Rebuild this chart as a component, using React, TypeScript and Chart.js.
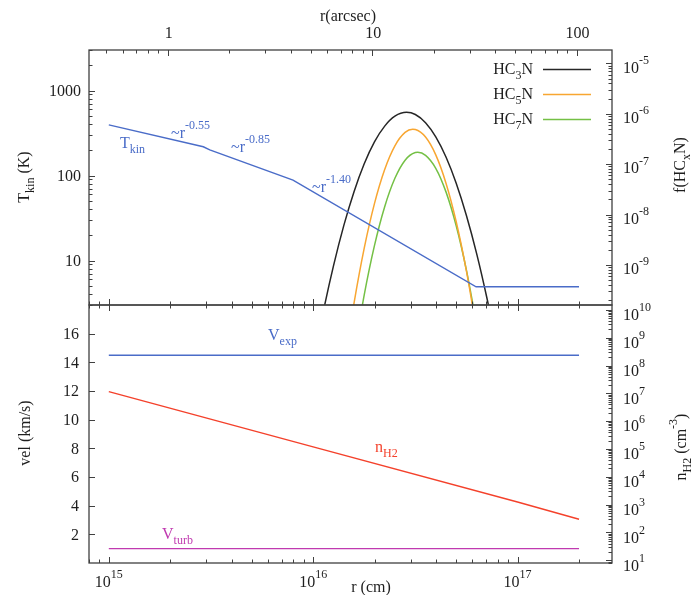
import React, { useEffect, useRef } from "react";
import { Chart, registerables } from "chart.js";

Chart.register(...registerables);

const W = 692;
const H = 595;

// ---------- axis ranges ----------
const CM_PER_ARCSEC = 1.945e15;
const R_MIN = 8.0e14;
const R_MAX = 2.9e17;
const T_MIN = 3;
const T_MAX = 3000;
const F_MIN = 1.6e-10;
const F_MAX = 1.85e-5;
const V_MIN = 0;
const V_MAX = 18;
const N_MIN = 8;
const N_MAX = 1.5e10;

// ---------- tick labels ----------
const cmTickValues = [1e15, 1e16, 1e17];
const cmTickExps = ["15", "16", "17"];
const arcsecTickValues = [1, 10, 100];
const arcsecTickLabels = ["1", "10", "100"];
const tkinTickValues = [10, 100, 1000];
const tkinTickLabels = ["10", "100", "1000"];
const fracTickValues = [1e-9, 1e-8, 1e-7, 1e-6, 1e-5];
const fracTickExps = ["-9", "-8", "-7", "-6", "-5"];
const velTickValues = [2, 4, 6, 8, 10, 12, 14, 16];
const velTickLabels = ["2", "4", "6", "8", "10", "12", "14", "16"];
const densTickValues = [1e1, 1e2, 1e3, 1e4, 1e5, 1e6, 1e7, 1e8, 1e9, 1e10];
const densTickExps = ["1", "2", "3", "4", "5", "6", "7", "8", "9", "10"];

// ---------- top panel data ----------
const tkinR = [1.0e15, 2.9e15, 3.12e15, 7.97e15, 6.27e16, 2.0e17];
const tkinT = [394, 218, 200, 88.6, 4.92, 4.92];

const hc3nR = [1.0e16, 1.122e16, 1.259e16, 1.413e16, 1.585e16, 1.778e16, 1.995e16, 2.239e16, 2.512e16, 2.864e16, 3.162e16, 3.548e16, 3.981e16, 4.467e16, 5.012e16, 5.623e16, 6.31e16, 7.079e16, 7.943e16];
const hc3nF = [1.1e-11, 1.2e-10, 9.8e-10, 6.1e-9, 2.85e-8, 1.02e-7, 2.77e-7, 5.7e-7, 8.96e-7, 1.07e-6, 9.7e-7, 6.67e-7, 3.49e-7, 1.39e-7, 4.19e-8, 9.6e-9, 1.68e-9, 2.23e-10, 2.25e-11];

const hc5nR = [1.413e16, 1.585e16, 1.778e16, 1.995e16, 2.239e16, 2.512e16, 2.818e16, 3.07e16, 3.162e16, 3.548e16, 3.981e16, 4.467e16, 5.012e16, 5.623e16, 6.31e16];
const hc5nF = [8.9e-12, 1.75e-10, 2.16e-9, 1.65e-8, 7.86e-8, 2.32e-7, 4.27e-7, 4.93e-7, 4.88e-7, 3.46e-7, 1.53e-7, 4.2e-8, 7.2e-9, 7.6e-10, 5.0e-11];

const hc7nR = [1.585e16, 1.778e16, 1.995e16, 2.239e16, 2.512e16, 2.818e16, 3.162e16, 3.251e16, 3.548e16, 3.981e16, 4.467e16, 5.012e16, 5.623e16, 6.31e16];
const hc7nF = [1.66e-11, 2.54e-10, 2.41e-9, 1.43e-8, 5.24e-8, 1.2e-7, 1.7e-7, 1.72e-7, 1.5e-7, 8.3e-8, 2.82e-8, 6.0e-9, 7.9e-10, 6.5e-11];

// ---------- bottom panel data ----------
const vexpR = [1.0e15, 2.0e17];
const vexpV = [14.5, 14.5];
const vturbR = [1.0e15, 2.0e17];
const vturbV = [1.0, 1.0];
const nh2R = [1.0e15, 1.0e16, 1.0e17, 2.0e17];
const nh2N = [1.15e7, 1.2e5, 1.25e3, 3.0e2];

// ---------- styles ----------
const FONT = "'Liberation Serif', 'Times New Roman', Times, serif";
const TEXT = "#1e1e1e";
const AXIS = "#404040";
const BLUE = "#4a6cc8";
const BLACK = "#262626";
const ORANGE = "#f8a631";
const GREEN = "#74c045";
const RED = "#f4412b";
const MAGENTA = "#c03ab0";
const MAJ = 6;
const MINL = 3.5;

type Part = [string, number]; // 0 normal, 1 subscript, 2 superscript

function fnt(size: number) {
  return `${size}px ${FONT}`;
}

function drawRich(
  ctx: CanvasRenderingContext2D,
  parts: Part[],
  x: number,
  y: number,
  align: "left" | "center" | "right",
  size: number,
  color: string,
  rotate = false
) {
  const small = Math.round(size * 0.75);
  const widths = parts.map(([t, k]) => {
    ctx.font = fnt(k ? small : size);
    return ctx.measureText(t).width;
  });
  const total = widths.reduce((a, b) => a + b, 0);
  ctx.save();
  ctx.translate(x, y);
  if (rotate) ctx.rotate(-Math.PI / 2);
  let cx = align === "left" ? 0 : align === "right" ? -total : -total / 2;
  const base = size * 0.33;
  ctx.fillStyle = color;
  ctx.textAlign = "left";
  ctx.textBaseline = "alphabetic";
  parts.forEach(([t, k], i) => {
    ctx.font = fnt(k ? small : size);
    const dy = k === 1 ? size * 0.3 : k === 2 ? -size * 0.55 : 0;
    ctx.fillText(t, cx, base + dy);
    cx += widths[i];
  });
  ctx.restore();
}

function logTicks(min: number, max: number): [number, boolean][] {
  const out: [number, boolean][] = [];
  for (let e = Math.floor(Math.log10(min)); e <= Math.ceil(Math.log10(max)); e++) {
    for (let k = 1; k <= 9; k++) {
      const v = k * Math.pow(10, e);
      if (v >= min * 0.9999 && v <= max * 1.0001) out.push([v, k === 1]);
    }
  }
  return out;
}

function vTick(ctx: CanvasRenderingContext2D, x: number, y: number, len: number) {
  const px = Math.round(x) + 0.5;
  ctx.beginPath();
  ctx.moveTo(px, y);
  ctx.lineTo(px, y + len);
  ctx.stroke();
}

function hTick(ctx: CanvasRenderingContext2D, x: number, y: number, len: number) {
  const py = Math.round(y) + 0.5;
  ctx.beginPath();
  ctx.moveTo(x, py);
  ctx.lineTo(x + len, py);
  ctx.stroke();
}

function frame(ctx: CanvasRenderingContext2D, l: number, t: number, r: number, b: number) {
  ctx.save();
  ctx.lineWidth = 1.3;
  ctx.strokeStyle = AXIS;
  ctx.strokeRect(l, t, r - l, b - t);
  ctx.restore();
}

const hidden = {
  ticks: { display: false },
  grid: { display: false },
  border: { display: false },
};

const topDecor = {
  id: "topDecor",
  afterDraw(chart: any) {
    const ctx = chart.ctx as CanvasRenderingContext2D;
    const { left, right, top, bottom } = chart.chartArea;
    const sx = chart.scales.x;
    const sa = chart.scales.x2;
    const st = chart.scales.yT;
    const sf = chart.scales.yF;
    ctx.save();
    ctx.strokeStyle = AXIS;
    ctx.lineWidth = 1;
    for (const [v, major] of logTicks(R_MIN, R_MAX)) vTick(ctx, sx.getPixelForValue(v), bottom, -(major ? MAJ : MINL));
    for (const [v, major] of logTicks(R_MIN / CM_PER_ARCSEC, R_MAX / CM_PER_ARCSEC)) vTick(ctx, sa.getPixelForValue(v), top, major ? MAJ : MINL);
    for (const [v, major] of logTicks(T_MIN, T_MAX)) hTick(ctx, left, st.getPixelForValue(v), major ? MAJ : MINL);
    for (const [v, major] of logTicks(F_MIN, F_MAX)) hTick(ctx, right, sf.getPixelForValue(v), -(major ? MAJ : MINL));
    frame(ctx, left, top, right, bottom);

    tkinTickValues.forEach((v, i) => drawRich(ctx, [[tkinTickLabels[i], 0]], left - 8, st.getPixelForValue(v), "right", 16, TEXT));
    arcsecTickValues.forEach((v, i) => drawRich(ctx, [[arcsecTickLabels[i], 0]], sa.getPixelForValue(v) + 1, 33, "center", 16, TEXT));
    fracTickValues.forEach((v, i) => drawRich(ctx, [["10", 0], [fracTickExps[i], 2]], right + 11, sf.getPixelForValue(v) + 4, "left", 16, TEXT));

    drawRich(ctx, [["r(arcsec)", 0]], 348, 16, "center", 16, TEXT);
    drawRich(ctx, [["T", 0], ["kin", 1], [" (K)", 0]], 24, 177, "center", 16, TEXT, true);
    drawRich(ctx, [["f(HC", 0], ["x", 1], ["N)", 0]], 680, 165, "center", 16, TEXT, true);

    // legend
    const legend: [Part[], string, number][] = [
      [[["HC", 0], ["3", 1], ["N", 0]], BLACK, 69],
      [[["HC", 0], ["5", 1], ["N", 0]], ORANGE, 94],
      [[["HC", 0], ["7", 1], ["N", 0]], GREEN, 119],
    ];
    for (const [parts, col, y] of legend) {
      drawRich(ctx, parts, 533, y, "right", 16, TEXT);
      ctx.strokeStyle = col;
      ctx.lineWidth = 1.5;
      ctx.beginPath();
      ctx.moveTo(543, y + 0.5);
      ctx.lineTo(591, y + 0.5);
      ctx.stroke();
    }

    // annotations
    drawRich(ctx, [["T", 0], ["kin", 1]], 120, 143, "left", 16, BLUE);
    drawRich(ctx, [["~r", 0], ["-0.55", 2]], 171, 133, "left", 16, BLUE);
    drawRich(ctx, [["~r", 0], ["-0.85", 2]], 231, 146.5, "left", 16, BLUE);
    drawRich(ctx, [["~r", 0], ["-1.40", 2]], 312, 187, "left", 16, BLUE);
    ctx.restore();
  },
};

const botDecor = {
  id: "botDecor",
  afterDraw(chart: any) {
    const ctx = chart.ctx as CanvasRenderingContext2D;
    const { left, right, top, bottom } = chart.chartArea;
    const sx = chart.scales.x;
    const sv = chart.scales.yV;
    const sn = chart.scales.yN;
    ctx.save();
    ctx.strokeStyle = AXIS;
    ctx.lineWidth = 1;
    for (const [v, major] of logTicks(R_MIN, R_MAX)) {
      const px = sx.getPixelForValue(v);
      vTick(ctx, px, bottom, -(major ? MAJ : MINL));
      vTick(ctx, px, top, major ? MAJ : MINL);
    }
    for (const v of velTickValues) hTick(ctx, left, sv.getPixelForValue(v), MAJ);
    for (const [v, major] of logTicks(N_MIN, N_MAX)) hTick(ctx, right, sn.getPixelForValue(v), -(major ? MAJ : MINL));
    frame(ctx, left, top, right, bottom);

    velTickValues.forEach((v, i) => drawRich(ctx, [[velTickLabels[i], 0]], left - 10, sv.getPixelForValue(v), "right", 16, TEXT));
    cmTickValues.forEach((v, i) => drawRich(ctx, [["10", 0], [cmTickExps[i], 2]], sx.getPixelForValue(v), bottom + 19, "center", 16, TEXT));
    densTickValues.forEach((v, i) => drawRich(ctx, [["10", 0], [densTickExps[i], 2]], right + 11, sn.getPixelForValue(v) + 5, "left", 16, TEXT));

    drawRich(ctx, [["vel (km/s)", 0]], 25, 133, "center", 16, TEXT, true);
    drawRich(ctx, [["n", 0], ["H2", 1], [" (cm", 0], ["-3", 2], [")", 0]], 681, 147, "center", 16, TEXT, true);
    drawRich(ctx, [["r (cm)", 0]], 371, 287, "center", 16, TEXT);

    drawRich(ctx, [["V", 0], ["exp", 1]], 268, 34.5, "left", 16, BLUE);
    drawRich(ctx, [["V", 0], ["turb", 1]], 162, 233.5, "left", 16, MAGENTA);
    drawRich(ctx, [["n", 0], ["H2", 1]], 375, 146.5, "left", 16, RED);
    ctx.restore();
  },
};

function pts(xs: number[], ys: number[]) {
  return xs.map((x, i) => ({ x, y: ys[i] }));
}

function topConfig(): any {
  return {
    type: "line",
    data: {
      datasets: [
        { label: "Tkin", data: pts(tkinR, tkinT), xAxisID: "x", yAxisID: "yT", borderColor: BLUE, borderWidth: 1.4, pointRadius: 0, tension: 0, fill: false },
        { label: "HC3N", data: pts(hc3nR, hc3nF), xAxisID: "x", yAxisID: "yF", borderColor: BLACK, borderWidth: 1.5, pointRadius: 0, cubicInterpolationMode: "monotone", fill: false },
        { label: "HC5N", data: pts(hc5nR, hc5nF), xAxisID: "x", yAxisID: "yF", borderColor: ORANGE, borderWidth: 1.5, pointRadius: 0, cubicInterpolationMode: "monotone", fill: false },
        { label: "HC7N", data: pts(hc7nR, hc7nF), xAxisID: "x", yAxisID: "yF", borderColor: GREEN, borderWidth: 1.5, pointRadius: 0, cubicInterpolationMode: "monotone", fill: false },
      ],
    },
    options: {
      animation: false,
      responsive: false,
      events: [],
      layout: { padding: 0 },
      plugins: { legend: { display: false }, tooltip: { enabled: false } },
      scales: {
        x: { type: "logarithmic", position: "bottom", min: R_MIN, max: R_MAX, ...hidden, afterFit: (s: any) => { s.height = 5; } },
        x2: { type: "logarithmic", position: "top", min: R_MIN / CM_PER_ARCSEC, max: R_MAX / CM_PER_ARCSEC, ...hidden, afterFit: (s: any) => { s.height = 50; } },
        yT: { type: "logarithmic", position: "left", min: T_MIN, max: T_MAX, ...hidden, afterFit: (s: any) => { s.width = 89; } },
        yF: { type: "logarithmic", position: "right", min: F_MIN, max: F_MAX, ...hidden, afterFit: (s: any) => { s.width = 80; } },
      },
    },
    plugins: [topDecor],
  };
}

function botConfig(): any {
  return {
    type: "line",
    data: {
      datasets: [
        { label: "Vexp", data: pts(vexpR, vexpV), xAxisID: "x", yAxisID: "yV", borderColor: BLUE, borderWidth: 1.5, pointRadius: 0, tension: 0, fill: false },
        { label: "nH2", data: pts(nh2R, nh2N), xAxisID: "x", yAxisID: "yN", borderColor: RED, borderWidth: 1.4, pointRadius: 0, tension: 0, fill: false },
        { label: "Vturb", data: pts(vturbR, vturbV), xAxisID: "x", yAxisID: "yV", borderColor: MAGENTA, borderWidth: 1.3, pointRadius: 0, tension: 0, fill: false },
      ],
    },
    options: {
      animation: false,
      responsive: false,
      events: [],
      layout: { padding: { top: 5, left: 0, right: 0, bottom: 0 } },
      plugins: { legend: { display: false }, tooltip: { enabled: false } },
      scales: {
        x: { type: "logarithmic", position: "bottom", min: R_MIN, max: R_MAX, ...hidden, afterFit: (s: any) => { s.height = 32; } },
        yV: { type: "linear", position: "left", min: V_MIN, max: V_MAX, ...hidden, afterFit: (s: any) => { s.width = 89; } },
        yN: { type: "logarithmic", position: "right", min: N_MIN, max: N_MAX, ...hidden, afterFit: (s: any) => { s.width = 80; } },
      },
    },
    plugins: [botDecor],
  };
}

export default function App() {
  const topRef = useRef<HTMLCanvasElement>(null);
  const botRef = useRef<HTMLCanvasElement>(null);
  useEffect(() => {
    const c1 = new Chart(topRef.current as HTMLCanvasElement, topConfig());
    const c2 = new Chart(botRef.current as HTMLCanvasElement, botConfig());
    return () => {
      c1.destroy();
      c2.destroy();
    };
  }, []);
  return (
    <div style={{ position: "fixed", left: 0, top: 0, width: W, height: H, background: "#fff", overflow: "hidden" }}>
      <canvas ref={topRef} width={W} height={310} style={{ position: "absolute", left: 0, top: 0, width: W, height: 310, display: "block" }} />
      <canvas ref={botRef} width={W} height={295} style={{ position: "absolute", left: 0, top: 300, width: W, height: 295, display: "block" }} />
    </div>
  );
}
